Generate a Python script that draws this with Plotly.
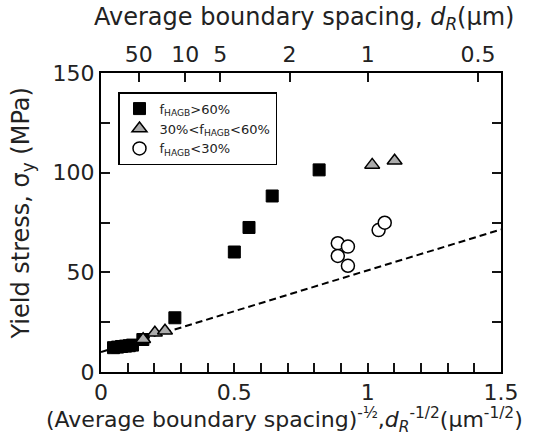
import plotly.graph_objects as go

# --- data (x = d_R^-1/2 in um^-1/2, y = yield stress in MPa) ---
high_x = [0.047, 0.062, 0.077, 0.092, 0.106, 0.118, 0.157, 0.277, 0.50, 0.555, 0.642, 0.818]
high_y = [12.2, 12.5, 12.8, 13.0, 13.2, 13.5, 16.3, 27.2, 60.2, 72.5, 88.3, 101.4]

mid_x = [0.158, 0.202, 0.240, 1.017, 1.101]
mid_y = [16.4, 19.7, 20.7, 103.9, 106.0]

low_x = [0.888, 0.926, 0.888, 0.926, 1.041, 1.064]
low_y = [64.6, 62.9, 58.2, 53.3, 71.2, 74.9]

fit_x = [0.0, 1.5]
fit_y = [10.0, 71.5]

bottom_ticks = [0, 0.1, 0.2, 0.3, 0.4, 0.5, 0.6, 0.7, 0.8, 0.9, 1.0, 1.1, 1.2, 1.3, 1.4, 1.5]
bottom_tick_labels = ["0", "", "", "", "", "0.5", "", "", "", "", "1", "", "", "", "", "1.5"]
left_ticks = [0, 25, 50, 75, 100, 125, 150]
left_tick_labels = ["0", "", "50", "", "100", "", "150"]
top_tick_d = [50, 10, 5, 2, 1, 0.5]
top_tick_labels = ["50", "10", "5", "2", "1", "0.5"]

FONT = "DejaVu Sans, sans-serif"
TXT = "#222222"
TICKC = "rgb(20,20,20)"

fig = go.Figure()

fig.add_trace(go.Scatter(
    x=fit_x, y=fit_y, mode="lines", showlegend=False,
    line=dict(color="black", width=2, dash="7px,4px"), hoverinfo="skip"))

fig.add_trace(go.Scatter(
    x=high_x, y=high_y, mode="markers", name="f<sub>HAGB</sub>&gt;60%",
    marker=dict(symbol="square", size=12, color="black",
                line=dict(color="black", width=1))))
fig.add_trace(go.Scatter(
    x=mid_x, y=mid_y, mode="markers", name="30%&lt;f<sub>HAGB</sub>&lt;60%",
    marker=dict(symbol="triangle-up", size=13, color="#ababab",
                line=dict(color="black", width=1.5))))
fig.add_trace(go.Scatter(
    x=low_x, y=low_y, mode="markers", name="f<sub>HAGB</sub>&lt;30%",
    marker=dict(symbol="circle", size=13, color="white",
                line=dict(color="black", width=1.5))))

# invisible trace so the top (d_R) axis is drawn
fig.add_trace(go.Scatter(x=fit_x, y=fit_y, xaxis="x2", mode="lines",
                         line=dict(width=0, color="rgba(0,0,0,0)"),
                         showlegend=False, hoverinfo="skip"))

axis_common = dict(showgrid=False, zeroline=False, linecolor="black", linewidth=2,
                   showline=True, automargin=False, ticks="inside",
                   ticklen=9, tickwidth=2, tickcolor=TICKC,
                   tickfont=dict(family=FONT, size=22, color=TXT))

fig.update_layout(
    template="none",
    width=559, height=436,
    margin=dict(l=101, r=58, t=73, b=64),
    paper_bgcolor="white", plot_bgcolor="white",
    font=dict(family=FONT, color=TXT),
    showlegend=True,
    xaxis=dict(range=[0, 1.5], tickmode="array", tickvals=bottom_ticks,
               ticktext=bottom_tick_labels, mirror=True, **axis_common),
    xaxis2=dict(range=[0, 1.5], overlaying="x", side="top", anchor="y",
                tickmode="array", tickvals=[d ** -0.5 for d in top_tick_d],
                ticktext=top_tick_labels, **axis_common),
    yaxis=dict(range=[0, 150], tickmode="array", tickvals=left_ticks,
               ticktext=left_tick_labels, mirror="ticks", **axis_common),
    legend=dict(x=0.0425, y=0.936, xanchor="left", yanchor="top",
                bordercolor="black", borderwidth=1.5, bgcolor="white",
                font=dict(family=FONT, size=13, color=TXT),
                itemwidth=30),
    annotations=[
        dict(text="Average boundary spacing, <i>d</i><sub><i>R</i></sub>(μm)",
             xref="paper", yref="paper", x=0.5, y=1, yshift=55, xshift=3,
             showarrow=False, font=dict(family=FONT, size=24, color=TXT),
             xanchor="center", yanchor="middle"),
        dict(text="(Average boundary spacing)<sup>-½</sup>,<i>d</i><sub><i>R</i></sub><sup>-1/2</sup>(μm<sup>-1/2</sup>)",
             xref="paper", yref="paper", x=0.5, y=0, yshift=-48, xshift=-17,
             showarrow=False, font=dict(family=FONT, size=22, color=TXT),
             xanchor="center", yanchor="middle"),
        dict(text="Yield stress, σ<sub>y</sub> (MPa)",
             xref="paper", yref="paper", x=0, y=0.5, xshift=-79, yshift=9,
             textangle=-90, showarrow=False, font=dict(family=FONT, size=24, color=TXT),
             xanchor="center", yanchor="middle"),
    ],
)

fig.write_html("out.html", config={"displayModeBar": False},
               post_script="document.body.style.margin='0';")
